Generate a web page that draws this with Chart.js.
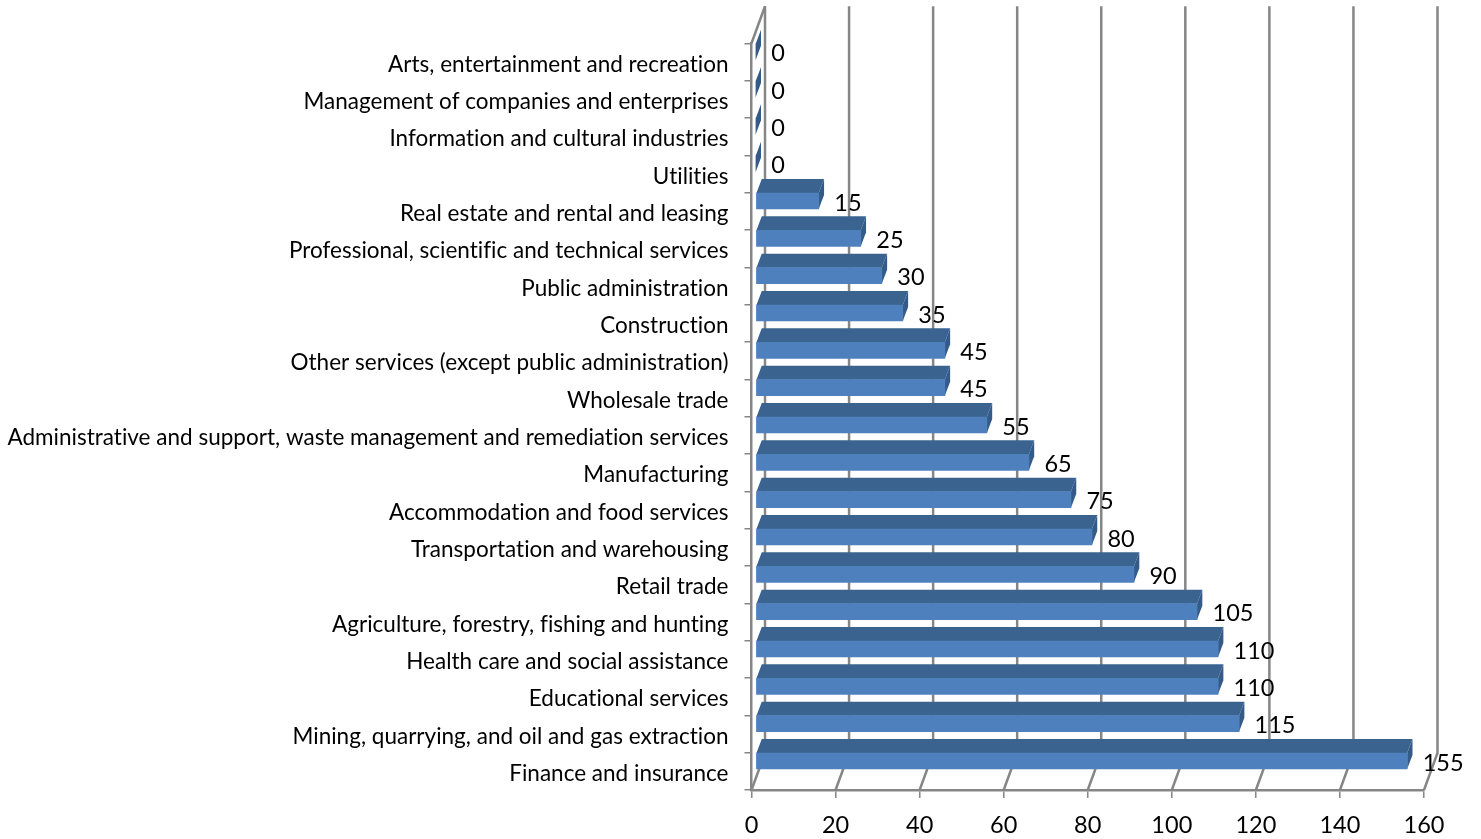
<!DOCTYPE html>
<html>
<head>
<meta charset="utf-8">
<style>
  html, body { margin: 0; padding: 0; background: #fff; }
  canvas { display: block; }
</style>
<script src="https://cdn.jsdelivr.net/npm/chart.js@4"></script>
</head>
<body>
<canvas id="industryChart" width="1481" height="839"></canvas>
<script>
const categories = [
  "Arts, entertainment and recreation",
  "Management of companies and enterprises",
  "Information and cultural industries",
  "Utilities",
  "Real estate and rental and leasing",
  "Professional, scientific and technical services",
  "Public administration",
  "Construction",
  "Other services (except public administration)",
  "Wholesale trade",
  "Administrative and support, waste management and remediation services",
  "Manufacturing",
  "Accommodation and food services",
  "Transportation and warehousing",
  "Retail trade",
  "Agriculture, forestry, fishing and hunting",
  "Health care and social assistance",
  "Educational services",
  "Mining, quarrying, and oil and gas extraction",
  "Finance and insurance",
];

const counts = [
  0, 0, 0, 0, 15, 25, 30, 35, 45, 45, 55, 65, 75, 80, 90, 105, 110, 110, 115,
  155,
];

const FONT = { family: "Lato", size: 22.5 };
const NUMBER_FONT = { family: "Lato", size: 23.5 };
const GREY = "#868686";

// wall depth of the fake 3d box
const WALL_DX = 13.5;
const WALL_DY = -37;

// bars sit inside the box, a bit back from the front plane
const BAR_SHIFT_X = 4.2;
const BAR_SHIFT_Y = -10.3;
const BAR_DX = 5.3;
const BAR_DY = -14;

function fillShape(ctx, color, points) {
  ctx.fillStyle = color;
  ctx.beginPath();
  points.forEach(([x, y], i) => (i ? ctx.lineTo(x, y) : ctx.moveTo(x, y)));
  ctx.closePath();
  ctx.fill();
}

// a tiny letter spacing switches off the "ti" ligatures, the reference has none
// has to be set here, Chart.js resizes the canvas and that wipes the context
const noLigaturesPlugin = {
  id: "noLigatures",
  beforeDraw(chart) {
    chart.ctx.letterSpacing = "0.01px";
  },
};

// back wall grid lines and the floor diagonals
const wallPlugin = {
  id: "wall",
  beforeDatasetsDraw(chart) {
    const { ctx, chartArea, scales } = chart;
    ctx.save();
    ctx.strokeStyle = GREY;
    ctx.lineWidth = 2.5;
    scales.x.ticks.forEach((tick) => {
      const x = scales.x.getPixelForValue(tick.value);
      ctx.beginPath();
      ctx.moveTo(x + WALL_DX, chartArea.top + WALL_DY);
      ctx.lineTo(x + WALL_DX, chartArea.bottom + WALL_DY);
      ctx.lineTo(x, chartArea.bottom);
      ctx.stroke();
    });
    ctx.beginPath();
    ctx.moveTo(chartArea.left, chartArea.top);
    ctx.lineTo(chartArea.left + WALL_DX, chartArea.top + WALL_DY);
    ctx.stroke();
    ctx.restore();
  },
};

// top and right faces of the bars, then the value labels
const barFacesPlugin = {
  id: "barFaces",
  beforeDatasetDraw(chart, args) {
    const { ctx } = chart;
    ctx.save();
    ctx.translate(BAR_SHIFT_X, BAR_SHIFT_Y);
    args.meta.data.forEach((bar) => {
      const { x, y, base, height } = bar.getProps(["x", "y", "base", "height"]);
      const top = y - height / 2;
      const bottom = y + height / 2;
      fillShape(ctx, "#3B6390", [
        [base, top],
        [x, top],
        [x + BAR_DX, top + BAR_DY],
        [base + BAR_DX, top + BAR_DY],
      ]);
      fillShape(ctx, "#345B88", [
        [x, top],
        [x + BAR_DX, top + BAR_DY],
        [x + BAR_DX, bottom + BAR_DY],
        [x, bottom],
      ]);
    });
  },
  afterDatasetDraw(chart, args) {
    const { ctx } = chart;
    ctx.restore();
    ctx.save();
    ctx.fillStyle = "#000";
    ctx.font = `${NUMBER_FONT.size}px ${NUMBER_FONT.family}`;
    ctx.textAlign = "left";
    ctx.textBaseline = "middle";
    args.meta.data.forEach((bar, i) => {
      ctx.fillText(counts[i], bar.x + 19.7, bar.y - 8.2);
    });
    ctx.restore();
  },
};

new Chart(document.getElementById("industryChart"), {
  type: "bar",
  data: {
    labels: categories,
    datasets: [
      {
        data: counts,
        backgroundColor: "#4E80BE",
        borderWidth: 0,
        barThickness: 16,
      },
    ],
  },
  plugins: [noLigaturesPlugin, wallPlugin, barFacesPlugin],
  options: {
    indexAxis: "y",
    responsive: false,
    animation: false,
    layout: { padding: { top: 43.3, right: 57, left: 0, bottom: 0 } },
    plugins: { legend: { display: false }, tooltip: { enabled: false } },
    scales: {
      x: {
        min: 0,
        max: 160,
        afterFit: (scale) => {
          scale.height = 49;
        },
        border: { color: GREY, width: 2.5 },
        grid: {
          drawOnChartArea: false,
          color: GREY,
          lineWidth: 1.5,
          tickLength: 8,
        },
        ticks: {
          stepSize: 20,
          color: "#000",
          font: NUMBER_FONT,
          padding: 13,
          maxRotation: 0,
        },
      },
      y: {
        afterFit: (scale) => {
          scale.width = 751.5;
        },
        border: { color: GREY, width: 2.5 },
        grid: {
          drawOnChartArea: false,
          color: GREY,
          lineWidth: 1.5,
          tickLength: 7,
        },
        ticks: {
          autoSkip: false,
          color: "#000",
          font: FONT,
          padding: 16,
          labelOffset: 2.5,
        },
      },
    },
  },
});
</script>
</body>
</html>
